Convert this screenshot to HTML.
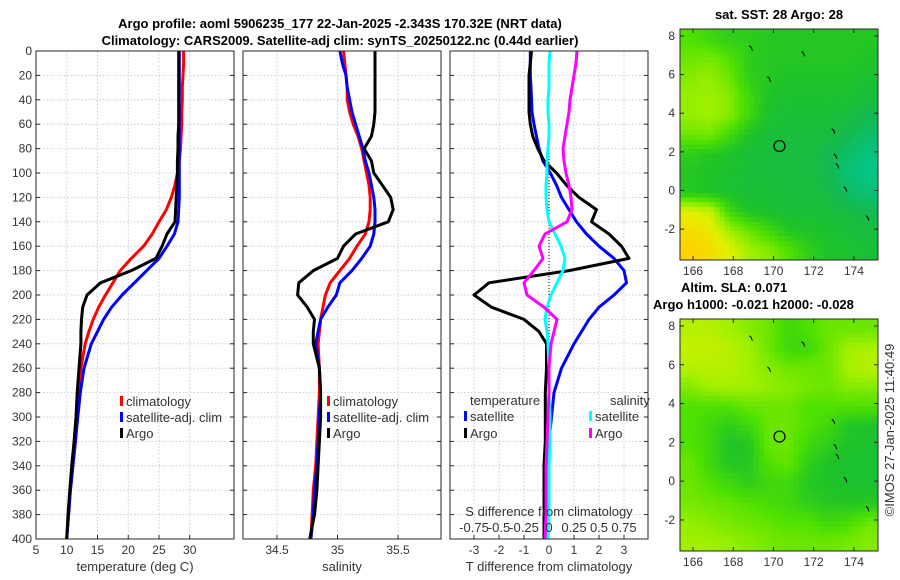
<!DOCTYPE html>
<html><head><meta charset="utf-8"><style>
body{margin:0;background:#fff}
svg{display:block;font-family:"Liberation Sans",sans-serif}
</style></head><body>
<svg id="c" width="900" height="580" viewBox="0 0 900 580"></svg>
<script>
const depths=[0,10,20,30,40,50,60,70,80,90,100,110,120,130,140,150,160,170,180,190,200,210,220,230,240,260,280,300,320,340,360,380,400];
// temperature (deg C)
const tClim=[29,29,28.9,28.8,28.8,28.7,28.7,28.6,28.5,28.3,28,27.6,27,26.2,25,23.9,22.5,20.5,18.7,17.5,16.3,15.2,14.3,13.6,13,12.3,12,11.7,11.4,11,10.6,10.3,10];
const tSat=[28.3,28.3,28.3,28.3,28.3,28.3,28.3,28.3,28.3,28.3,28.3,28.3,28.3,28.2,28.1,27.5,26.3,25,23,21,19,17.3,16,15,14,12.8,12.2,11.8,11.4,11,10.6,10.3,10];
const tArgo=[28.2,28.2,28.2,28.2,28.2,28.2,28.2,28.1,28.1,28,28,27.9,27.8,27.7,27.6,26.3,25.5,24.5,20.5,15.5,13.3,12.6,12.4,12.3,12.3,12,11.7,11.5,11.2,10.8,10.5,10.2,10];
// salinity
const sClim=[35.05,35.06,35.07,35.08,35.08,35.1,35.13,35.17,35.2,35.22,35.24,35.26,35.27,35.27,35.26,35.23,35.16,35.1,35.02,34.94,34.9,34.88,34.86,34.85,34.84,34.85,34.85,34.84,34.83,34.82,34.8,34.79,34.78];
const sSat=[35.02,35.04,35.07,35.08,35.1,35.12,35.15,35.18,35.21,35.23,35.26,35.28,35.3,35.31,35.31,35.3,35.27,35.2,35.12,35.02,34.99,34.92,34.86,34.84,34.82,34.85,34.86,34.85,34.84,34.83,34.81,34.8,34.78];
const sArgo=[35.31,35.31,35.31,35.31,35.31,35.31,35.3,35.28,35.22,35.28,35.3,35.37,35.44,35.46,35.42,35.15,35.05,35.0,34.8,34.68,34.67,34.75,34.81,34.8,34.8,34.85,34.86,34.86,34.85,34.84,34.83,34.81,34.77];
// differences from climatology
const dTSat=[-0.75,-0.75,-0.75,-0.72,-0.7,-0.68,-0.6,-0.5,-0.4,-0.25,0.05,0.3,0.5,0.8,1.1,1.5,2.0,2.6,3.0,3.1,2.6,2.0,1.6,1.3,1.0,0.5,0.2,0.1,0,-0.1,-0.15,-0.15,-0.15];
const dTArgo=[-0.7,-0.75,-0.8,-0.8,-0.8,-0.8,-0.75,-0.65,-0.45,-0.2,0.3,0.7,1.2,1.9,1.7,2.4,2.9,3.2,0.8,-2.4,-3.0,-2.3,-1.0,-0.4,-0.1,-0.1,-0.15,-0.15,-0.15,-0.2,-0.2,-0.2,-0.2];
const dSSat=[0.01,0.0,0.0,0.0,-0.01,-0.01,0.0,0.0,-0.01,-0.02,-0.02,-0.03,-0.03,-0.02,0.0,0.06,0.12,0.16,0.14,0.08,0.02,-0.02,-0.04,-0.02,-0.01,0.0,0.0,0.01,0.01,0.0,0.0,0.0,-0.01];
const dSArgo=[0.28,0.27,0.25,0.23,0.21,0.2,0.18,0.16,0.14,0.15,0.17,0.2,0.22,0.23,0.18,-0.04,-0.1,-0.06,-0.15,-0.25,-0.22,-0.05,0.08,0.05,0.02,0.0,0.0,-0.01,-0.02,-0.03,-0.03,-0.03,-0.04];
// maps: grids (rows north->south)
const sstGrid=[
[.55,.5,.45,.45,.42,.42,.42,.42,.42,.42],
[.6,.62,.55,.45,.42,.42,.42,.42,.42,.4],
[.65,.68,.6,.45,.42,.4,.4,.4,.4,.38],
[.68,.7,.65,.5,.4,.38,.38,.38,.38,.35],
[.68,.7,.65,.5,.38,.36,.36,.36,.34,.3],
[.6,.62,.5,.4,.36,.35,.35,.34,.3,.25],
[.45,.42,.4,.36,.35,.35,.34,.3,.25,.2],
[.42,.4,.38,.36,.35,.35,.34,.3,.22,.18],
[.42,.4,.38,.36,.36,.35,.35,.32,.26,.22],
[.85,.8,.5,.4,.38,.36,.36,.35,.33,.3],
[.95,.9,.7,.6,.5,.42,.4,.38,.36,.34],
[1,.95,.85,.7,.65,.55,.45,.4,.38,.36]];
const slaGrid=[
[.75,.75,.7,.65,.6,.5,.55,.6,.6,.6],
[.78,.78,.75,.7,.6,.5,.5,.6,.7,.72],
[.75,.75,.75,.7,.65,.6,.6,.6,.72,.75],
[.65,.7,.72,.7,.68,.65,.62,.6,.65,.65],
[.55,.55,.55,.6,.6,.6,.55,.55,.55,.55],
[.55,.5,.45,.5,.6,.6,.55,.5,.42,.4],
[.55,.5,.4,.42,.6,.6,.5,.45,.4,.38],
[.6,.5,.42,.42,.55,.58,.45,.4,.38,.38],
[.6,.55,.5,.45,.5,.5,.42,.4,.38,.38],
[.62,.6,.58,.55,.52,.5,.45,.42,.42,.42],
[.68,.65,.62,.6,.58,.55,.55,.5,.52,.6],
[.7,.7,.68,.65,.62,.6,.6,.6,.62,.65]];
const argoLon=170.3, argoLat=2.3;
const depthTicks=[0,20,40,60,80,100,120,140,160,180,200,220,240,260,280,300,320,340,360,380,400];
const tTicks=[5,10,15,20,25,30];
const sTicks=[34.5,35,35.5];
const dTTicks=[-3,-2,-1,0,1,2,3];
const dSTicks=[-0.75,-0.5,-0.25,0,0.25,0.5,0.75];
const lonTicks=[166,168,170,172,174];
const latTicks=[-2,0,2,4,6,8];

const NS='http://www.w3.org/2000/svg';
const svg=document.getElementById('c');
function el(tag,attrs,parent){const e=document.createElementNS(NS,tag);for(const k in attrs)e.setAttribute(k,attrs[k]);(parent||svg).appendChild(e);return e;}
function txt(s,x,y,attrs,parent){const e=el('text',Object.assign({x:x,y:y,'font-size':12,fill:'#333'},attrs||{}),parent);e.textContent=s;return e;}

const PT=51,PB=539;
const yD=d=>PT+(d/400)*(PB-PT);
function lin(d0,d1,r0,r1){return v=>r0+(v-d0)/(d1-d0)*(r1-r0);}

function panel(name,x0,x1,xs,ticks,tickFmt,xlabel,showY){
  const g=el('g',{});
  
  
  el('rect',{x:x0,y:PT,width:x1-x0,height:PB-PT,fill:'#fff'},g);
  depthTicks.forEach(d=>{el('line',{x1:x0,x2:x1,y1:yD(d),y2:yD(d),stroke:'#b8c4dc','stroke-width':0.8,'stroke-dasharray':'1.5,2'},g);});
  ticks.forEach(t=>{el('line',{x1:xs(t),x2:xs(t),y1:PT,y2:PB,stroke:'#b8c4dc','stroke-width':0.8,'stroke-dasharray':'1.5,2'},g);
    el('line',{x1:xs(t),x2:xs(t),y1:PB,y2:PB-4,stroke:'#262626'},g);
    const l=txt(tickFmt(t),xs(t),PB+15,{'text-anchor':'middle'},g);
    });
  if(showY) depthTicks.forEach(d=>{const l=txt(String(d),x0-4,yD(d)+4,{'text-anchor':'end'},g);
    });
  depthTicks.forEach(d=>{el('line',{x1:x0,x2:x0+4,y1:yD(d),y2:yD(d),stroke:'#262626'},g);el('line',{x1:x1,x2:x1-4,y1:yD(d),y2:yD(d),stroke:'#262626'},g);});
  const xl=txt(xlabel,(x0+x1)/2,PB+32,{'text-anchor':'middle','font-size':13},g);
  
  return g;
}
function frame(g,x0,x1){el('rect',{x:x0,y:PT,width:x1-x0,height:PB-PT,fill:'none',stroke:'#262626','stroke-width':1},g);}
function line(g,vals,xs,color,name){
  const p=el('polyline',{points:vals.map((v,i)=>xs(v).toFixed(1)+','+yD(depths[i]).toFixed(1)).join(' '),fill:'none',stroke:color,'stroke-width':3,'stroke-linejoin':'round'},g);
  
}
function legendEntry(g,x,y,color,label){
  el('rect',{x:x,y:y-10,width:3,height:10,fill:color},g);
  const t=txt(label,x+6,y,{'font-size':13},g);
  
}

// Panel 1 temperature
const xT=lin(5,37.2,36,234);
let g1=panel('temperature-panel',36,234,xT,tTicks,String,'temperature (deg C)',true);
line(g1,tClim,xT,'#ff0000','temp-climatology-line');
line(g1,tSat,xT,'#0000ff','temp-satellite-line');
line(g1,tArgo,xT,'#000000','temp-argo-line');
legendEntry(g1,120,406,'#ff0000','climatology');
legendEntry(g1,120,422,'#0000ff','satellite-adj. clim');
legendEntry(g1,120,438,'#000000','Argo');
frame(g1,36,234);

// Panel 2 salinity
const xS=lin(34.5,35.5,277,398);
let g2=panel('salinity-panel',243,441,xS,sTicks,String,'salinity',false);
line(g2,sClim,xS,'#ff0000','sal-climatology-line');
line(g2,sSat,xS,'#0000ff','sal-satellite-line');
line(g2,sArgo,xS,'#000000','sal-argo-line');
legendEntry(g2,327,406,'#ff0000','climatology');
legendEntry(g2,327,422,'#0000ff','satellite-adj. clim');
legendEntry(g2,327,438,'#000000','Argo');
frame(g2,243,441);

// Panel 3 differences
const xDT=lin(-3,3,474,624);
const xDS=lin(-0.75,0.75,474,624);
let g3=panel('difference-panel',450,648,xDT,dTTicks,String,'T difference from climatology',false);
el('line',{x1:xDT(0),x2:xDT(0),y1:PT,y2:PB,stroke:'#000','stroke-width':1,'stroke-dasharray':'1,2'},g3);
line(g3,dTSat,xDT,'#0000ff','tdiff-satellite-line');
line(g3,dTArgo,xDT,'#000000','tdiff-argo-line');
line(g3,dSSat,xDS,'#00ffff','sdiff-satellite-line');
line(g3,dSArgo,xDS,'#ff00ff','sdiff-argo-line');
txt('temperature',470,405,{'font-size':13},g3);
txt('salinity',610,405,{'font-size':13},g3);
legendEntry(g3,464,421,'#0000ff','satellite');
legendEntry(g3,464,438,'#000000','Argo');
legendEntry(g3,589,421,'#00ffff','satellite');
legendEntry(g3,589,438,'#ff00ff','Argo');
txt('S difference from climatology',549,516,{'font-size':13,'text-anchor':'middle'},g3);
dSTicks.forEach(t=>{const l=txt(String(t),xDS(t),532,{'font-size':13,'text-anchor':'middle'},g3);
  });
frame(g3,450,648);

// Titles
const t1=txt('Argo profile: aoml 5906235_177 22-Jan-2025 -2.343S 170.32E (NRT data)',340,28,{'font-size':13,'font-weight':'bold','text-anchor':'middle',fill:'#000'});

const t2=txt('Climatology: CARS2009. Satellite-adj clim: synTS_20250122.nc (0.44d earlier)',340,45,{'font-size':13,'font-weight':'bold','text-anchor':'middle',fill:'#000'});


// Maps
const stops=[[0.15,[0,200,150]],[0.3,[20,185,80]],[0.4,[30,195,40]],[0.55,[80,225,0]],[0.7,[160,240,0]],[0.85,[225,240,0]],[1,[255,210,0]]];
function cmap(v){if(v<=stops[0][0])return 'rgb('+stops[0][1]+')';
  for(let i=1;i<stops.length;i++){if(v<=stops[i][0]){const a=stops[i-1],b=stops[i],f=(v-a[0])/(b[0]-a[0]);
    return 'rgb('+a[1].map((c,k)=>Math.round(c+(b[1][k]-c)*f)).join(',')+')';}}
  return 'rgb('+stops[stops.length-1][1]+')';}
function sample(grid,fx,fy){ // bilinear sample, fx/fy in cell-center coordinates
  const rows=grid.length,cols=grid[0].length;
  fx=Math.max(0,Math.min(cols-1,fx));fy=Math.max(0,Math.min(rows-1,fy));
  const x0=Math.floor(fx),y0=Math.floor(fy),x1=Math.min(cols-1,x0+1),y1=Math.min(rows-1,y0+1),ax=fx-x0,ay=fy-y0;
  return grid[y0][x0]*(1-ax)*(1-ay)+grid[y0][x1]*ax*(1-ay)+grid[y1][x0]*(1-ax)*ay+grid[y1][x1]*ax*ay;
}
function map(name,grid,top,bottom,titleLines){
  const g=el('g',{});
  
  
  const L=680,R=878;
  const xL=lin(165.35,175.2,L,R), yL=lin(8.36,-3.6,top,bottom);
  const rows=grid.length,cols=grid[0].length,SUB=4;
  const cw=(R-L)/(cols*SUB),ch=(bottom-top)/(rows*SUB);
  for(let r=0;r<rows*SUB;r++)for(let c=0;c<cols*SUB;c++){
    const v=sample(grid,(c+0.5)/SUB-0.5,(r+0.5)/SUB-0.5);
    const cell=el('rect',{x:(L+c*cw).toFixed(2),y:(top+r*ch).toFixed(2),width:(cw+0.5).toFixed(2),height:(ch+0.5).toFixed(2),fill:cmap(v)},g);
    
    
  }
  el('rect',{x:L,y:top,width:R-L,height:bottom-top,fill:'none',stroke:'#262626'},g);
  lonTicks.forEach(t=>{el('line',{x1:xL(t),x2:xL(t),y1:bottom,y2:bottom-4,stroke:'#262626'},g);el('line',{x1:xL(t),x2:xL(t),y1:top,y2:top+4,stroke:'#262626'},g);
    txt(String(t),xL(t),bottom+15,{'text-anchor':'middle'},g);});
  latTicks.forEach(t=>{el('line',{x1:L,x2:L+4,y1:yL(t),y2:yL(t),stroke:'#262626'},g);el('line',{x1:R,x2:R-4,y1:yL(t),y2:yL(t),stroke:'#262626'},g);
    txt(String(t),L-5,yL(t)+4,{'text-anchor':'end'},g);});
  const m=el('circle',{cx:xL(argoLon),cy:yL(argoLat),r:5.5,fill:'none',stroke:'#000','stroke-width':1.2},g);
  
  [[172.9,3.2],[173,1.9],[173.1,1.4],[173.5,0.2],[174.6,-1.3],[171.4,7.2],[168.8,7.5],[169.7,5.9]].forEach(p=>{
    el('path',{d:'M'+xL(p[0])+','+yL(p[1])+' l2,2 l1,3',fill:'none',stroke:'#000','stroke-width':1},g);});
  titleLines.forEach(tl=>{const t=txt(tl[0],tl[1],tl[2],{'font-size':13,'font-weight':'bold','text-anchor':tl[3],fill:'#000'},g);
    });
}
map('sst-map',sstGrid,29,260,[['sat. SST: 28 Argo: 28',779,19,'middle']]);
map('sla-map',slaGrid,319,551,[['Altim. SLA: 0.071',681,292,'start'],['Argo h1000: -0.021 h2000: -0.028',653,309,'start']]);
const st=txt('©IMOS 27-Jan-2025 11:40:49',0,0,{'font-size':13,transform:'translate(894,430) rotate(-90)','text-anchor':'middle'});

</script>
</body></html>
